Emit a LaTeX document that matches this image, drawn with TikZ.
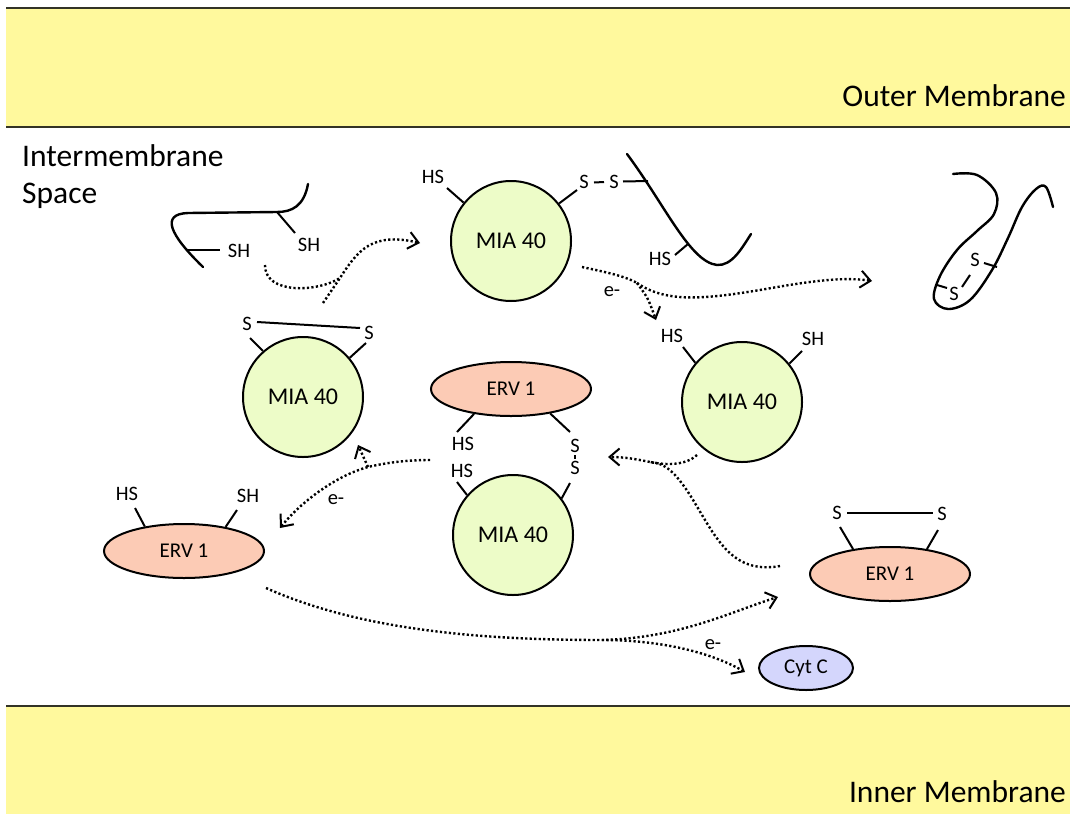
\documentclass[tikz,border=0pt]{standalone}
\usepackage{fontspec}
\setmainfont{Carlito}
\usetikzlibrary{shapes.geometric,arrows.meta}
\definecolor{memb}{HTML}{FFF99D}
\definecolor{membline}{HTML}{333326}
\definecolor{mia}{HTML}{EDFCC8}
\definecolor{erv}{HTML}{FCCBB5}
\definecolor{cyt}{HTML}{D4D6FC}
\begin{document}
\begin{tikzpicture}[x=1pt,y=-1pt,
  mianode/.style={circle, draw, line width=2pt, fill=mia, minimum size=120pt, inner sep=0pt, font=\fontsize{24}{28}\selectfont},
  ervnode/.style={ellipse, draw, line width=2pt, fill=erv, minimum width=160pt, minimum height=54pt, inner sep=0pt, font=\fontsize{21}{25}\selectfont},
  cytnode/.style={ellipse, draw, line width=2pt, fill=cyt, minimum width=94pt, minimum height=44pt, inner sep=0pt, font=\fontsize{21}{25}\selectfont},
  lbl/.style={inner sep=0pt, font=\fontsize{20.5}{24}\selectfont},
  bigtxt/.style={inner sep=0pt, font=\fontsize{31.5}{36}\selectfont},
  stick/.style={line width=2pt},
  chainline/.style={line width=2.4pt, line cap=round},
  dotline/.style={line width=2.4pt, dash pattern=on 2.2pt off 2.3pt},
  dotarrow/.style={dotline, -{Straight Barb[length=10pt,width=17pt,line width=2pt]}},
  membfill/.style={fill=memb},
  membedge/.style={draw=membline, line width=2.2pt}
]
\useasboundingbox (0,0) rectangle (1070,814);
\fill[white] (0,0) rectangle (1070,814);

% membranes
\fill[membfill] (6,8) rectangle (1070,127);
\draw[membedge] (6,8) -- (1070,8);
\draw[membedge] (6,127) -- (1070,127);
\fill[membfill] (6,706) rectangle (1070,814);
\draw[membedge] (6,706) -- (1070,706);
\node[bigtxt, anchor=base east] (outer) at (1066,106) {Outer Membrane};
\node[bigtxt, anchor=base east] (inner) at (1066,802) {Inner Membrane};
\node[bigtxt, anchor=base west] (ims1) at (22,166) {Intermembrane};
\node[bigtxt, anchor=base west] (ims2) at (22,203) {Space};

% main nodes
\node[mianode] (mtop) at (511,241) {MIA 40};
\node[mianode] (mleft) at (303,397) {MIA 40};
\node[mianode] (mright) at (742,402) {MIA 40};
\node[mianode] (mbot) at (513,535) {MIA 40};
\node[ervnode] (emid) at (511,389) {ERV 1};
\node[ervnode] (eleft) at (184,551) {ERV 1};
\node[ervnode] (eright) at (890,574) {ERV 1};
\node[cytnode] (cyt) at (806,668) {Cyt C};

% substrate (reduced)
\draw[chainline] (308,184) .. controls (304,206) and (292,212) .. (277,212) -- (188,213) .. controls (160,214) and (170,235) .. (203,267);
\draw[stick] (277,212) -- (295,233);
\node[lbl] (sh1) at (309,245) {SH};
\draw[stick] (187,250) -- (220,250);
\node[lbl] (sh2) at (239,251) {SH};

% MIA40 top with bound substrate
\draw[stick] (mtop.141) -- (447,188);
\node[lbl] (mths) at (433,177) {HS};
\draw[stick] (mtop.38) -- (577,190);
\node[lbl] (mts1) at (584,182) {S};
\draw[stick] (594,182.5) -- (604,182);
\node[lbl] (mts2) at (614,182) {S};
\draw[stick] (623,181.5) -- (648,181);
\draw[chainline] (627,154) .. controls (665,205) and (690,262) .. (717,265) .. controls (732,266) and (742,248) .. (751,234);
\draw[stick] (688,244) -- (675,255);
\node[lbl] (chhs) at (660,259) {HS};

% folded product
\draw[chainline] plot[smooth, tension=0.6] coordinates {(953,174) (977,175) (996,193) (994,214) (977,231) (957,250) (940,276) (934,299) (948,309) (970,300) (992,270) (1008,238) (1022,207) (1036,189) (1046,187) (1053,207)};
\draw[stick] (984,263) -- (997,267);
\node[lbl] (fs1) at (975,260) {S};
\draw[stick] (937,285) -- (947,288);
\node[lbl] (fs2) at (954,294) {S};
\draw[stick] (970,275) -- (962,287);

% MIA40 left (oxidized)
\draw[stick] (mleft.131) -- (250,338);
\node[lbl] (mls1) at (247,324) {S};
\draw[stick] (mleft.40) -- (366,343);
\node[lbl] (mls2) at (369,333) {S};
\draw[stick] (257,322) -- (360,328);

% MIA40 right (reduced)
\draw[stick] (mright.140) -- (683,347);
\node[lbl] (mrhs) at (672,336) {HS};
\draw[stick] (mright.39) -- (802,351);
\node[lbl] (mrsh) at (813,339) {SH};

% ERV1 middle with MIA40 bottom
\draw[stick] (emid.214) -- (457,432);
\node[lbl] (emhs) at (463,444) {HS};
\draw[stick] (emid.328) -- (570,432);
\node[lbl] (ems1) at (575,446) {S};
\draw[line width=1.6pt] (575,455) -- (575,458.5);
\node[lbl] (ems2) at (575,468) {S};
\node[lbl] (mbhs) at (462,471) {HS};
\draw[stick] (mbot.139) -- (457,482);
\draw[stick] (mbot.37) -- (570,483);

% ERV1 left (reduced)
\draw[stick] (eleft.148) -- (135,508);
\node[lbl] (elhs) at (127,494) {HS};
\draw[stick] (eleft.30) -- (237,510);
\node[lbl] (elsh) at (248,496) {SH};

% ERV1 right (oxidized)
\draw[stick] (eright.146) -- (840,527);
\node[lbl] (ers1) at (837,513) {S};
\draw[stick] (eright.34) -- (938,530);
\node[lbl] (ers2) at (942,514) {S};
\draw[stick] (847,513) -- (933,513);

% arrow coordinates
\coordinate (a1s) at (265,265);
\coordinate (a1b) at (323,303);
\coordinate (m1) at (340,278);
\coordinate (t1) at (420,243);

\coordinate (a2s) at (582,267);
\coordinate (m2) at (637,283);
\coordinate (t2a) at (872,281);
\coordinate (t2b) at (656,320);

\coordinate (a3s) at (697,455);
\coordinate (a3b) at (780,566);
\coordinate (m3) at (650,462);
\coordinate (t3) at (608,457);

\coordinate (a4s) at (430,460);
\coordinate (m4) at (368,467);
\coordinate (t4) at (280,528);
\coordinate (t4b) at (358,445);

\coordinate (a5s) at (266,588);
\coordinate (m5) at (602,640);
\coordinate (t5a) at (778,597);
\coordinate (t5b) at (745,672);

% arrows
\draw[dotline] (a1b) -- (m1);
\draw[dotarrow] (a1s) .. controls (265,295) and (318,292) .. (m1) .. controls (358,250) and (372,232) .. (t1);

\draw[dotline] (a2s) .. controls (605,272) and (625,276) .. (m2);
\draw[dotarrow] (m2) .. controls (665,302) and (700,300) .. (760,290) .. controls (800,283) and (840,276) .. (t2a);
\draw[dotarrow] (m2) .. controls (648,298) .. (t2b);
\node[lbl] (e1) at (612,292) {e-};

\draw[dotline] (a3b) .. controls (730,575) and (715,535) .. (690,495) .. controls (675,472) and (665,463) .. (m3);
\draw[dotarrow] (a3s) .. controls (685,466) and (665,465) .. (m3) .. controls (635,459) and (625,457) .. (t3);

\draw[dotarrow] (a4s) .. controls (405,460) and (385,463) .. (m4) .. controls (335,476) and (300,503) .. (t4);
\draw[dotarrow] (m4) -- (t4b);
\node[lbl] (e2) at (336,500) {e-};

\draw[dotarrow] (a5s) .. controls (360,630) and (480,640) .. (m5) .. controls (680,638) and (730,612) .. (t5a);
\draw[dotarrow] (m5) .. controls (660,640) and (710,652) .. (t5b);
\node[lbl] (e3) at (713,645) {e-};
\end{tikzpicture}
\end{document}
